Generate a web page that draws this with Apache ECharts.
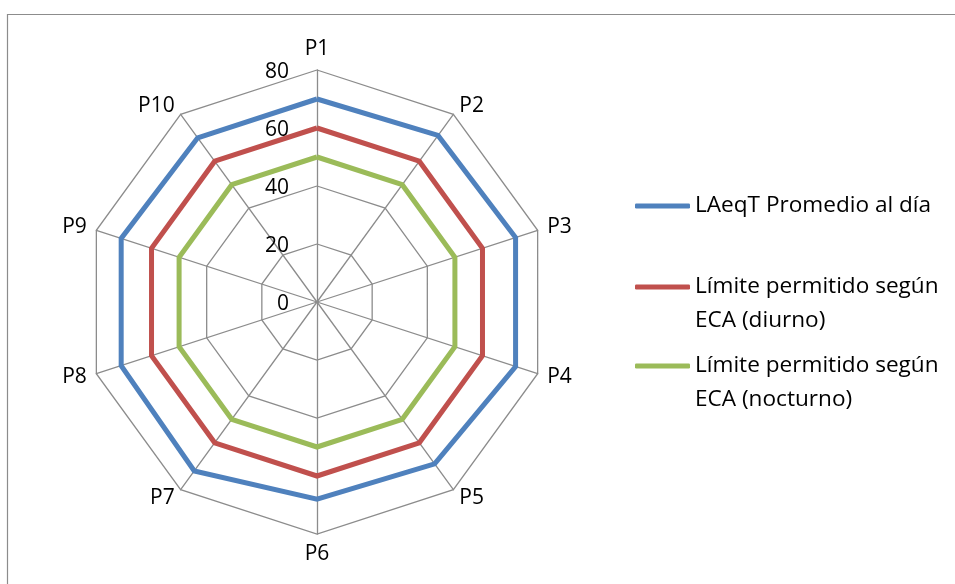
<!DOCTYPE html>
<html>
<head>
<meta charset="utf-8">
<script src="https://cdn.jsdelivr.net/npm/echarts@6/dist/echarts.min.js"></script>
<style>
  html, body { margin: 0; padding: 0; background: #ffffff; }
  #chart { width: 955px; height: 584px; }
</style>
</head>
<body>
<div id="chart"></div>
<script>
// Monitoring points around the site
const points = ['P1', 'P2', 'P3', 'P4', 'P5', 'P6', 'P7', 'P8', 'P9', 'P10'];

// Daily average equivalent sound level, dB(A)
const laeqPromedio = [70, 71, 72, 72, 69, 68, 72, 71, 71, 70];
// ECA limits, dB(A)
const limiteDiurno = [60, 60, 60, 60, 60, 60, 60, 60, 60, 60];
const limiteNocturno = [50, 50, 50, 50, 50, 50, 50, 50, 50, 50];

// Ring scale
const scaleMin = 0;
const scaleMax = 80;
const scaleStep = 20;

const seriesNames = [
  'LAeqT Promedio al día',
  'Límite permitido según\nECA (diurno)',
  'Límite permitido según\nECA (nocturno)'
];
const seriesColors = ['#4F81BD', '#C0504D', '#9BBB59'];
const seriesValues = [laeqPromedio, limiteDiurno, limiteNocturno];

const FONT = '"Open Sans", Lato, sans-serif';
const AXIS_FONT_SIZE = 21;
const LEGEND_FONT_SIZE = 22.6;
const LEGEND_LINE = 34;

// ECharts lays radar indicators out counter-clockwise; walk the points in
// reverse after the first so P2 lands to the right of P1.
const order = [0].concat(points.slice(1).map((_, i) => points.length - 1 - i));

const chart = echarts.init(document.getElementById('chart'), null, { renderer: 'canvas' });

// Each legend entry is its own box so the swatch sits beside the first text line.
const legendTops = [189, 236, 315];

chart.setOption({
  animation: false,
  backgroundColor: '#ffffff',
  textStyle: { fontFamily: FONT },
  graphic: [{
    type: 'rect',
    shape: { x: 7.5, y: 14.5, width: 1000, height: 1000 },
    style: { fill: 'none', stroke: '#8c8c8c', lineWidth: 1.2 },
    silent: true
  }],
  radar: {
    center: [317, 302],
    radius: 232,
    startAngle: 90,
    splitNumber: (scaleMax - scaleMin) / scaleStep,
    shape: 'polygon',
    indicator: order.map(i => ({ name: points[i], min: scaleMin, max: scaleMax })),
    axisName: { color: '#000', fontSize: AXIS_FONT_SIZE, fontFamily: FONT },
    nameGap: 10,
    axisLine: { lineStyle: { color: '#8c8c8c', width: 1.3 } },
    splitLine: { lineStyle: { color: '#8c8c8c', width: 1.3 } },
    splitArea: { show: false },
    axisTick: { show: false },
    axisLabel: { show: false }
  },
  // Ring scale labels drawn by a bare value axis running up the P1 spoke
  grid: { left: 297, top: 72, height: 232, width: 10 },
  xAxis: { type: 'value', show: false },
  yAxis: {
    type: 'value',
    min: scaleMin,
    max: scaleMax,
    interval: scaleStep,
    axisLine: { show: false },
    axisTick: { show: false },
    splitLine: { show: false },
    axisLabel: { color: '#000', fontSize: AXIS_FONT_SIZE, fontFamily: FONT, margin: 8 }
  },
  legend: seriesNames.map((name, i) => ({
    data: [name],
    // a leading blank line keeps two-line entries starting level with the swatch
    formatter: n => (n.indexOf('\n') >= 0 ? '\n' + n : n),
    orient: 'vertical',
    left: 635,
    top: legendTops[i],
    padding: 0,
    icon: 'roundRect',
    itemWidth: 55,
    itemHeight: 5,
    selectedMode: false,
    textStyle: { color: '#000', fontSize: LEGEND_FONT_SIZE, fontFamily: FONT, lineHeight: LEGEND_LINE }
  })),
  series: seriesNames.map((name, s) => ({
    type: 'radar',
    name: name,
    symbol: 'none',
    lineStyle: { color: seriesColors[s], width: 5, join: 'miter' },
    itemStyle: { color: seriesColors[s] },
    data: [{ name: name, value: order.map(i => seriesValues[s][i]) }]
  }))
});
</script>
</body>
</html>
